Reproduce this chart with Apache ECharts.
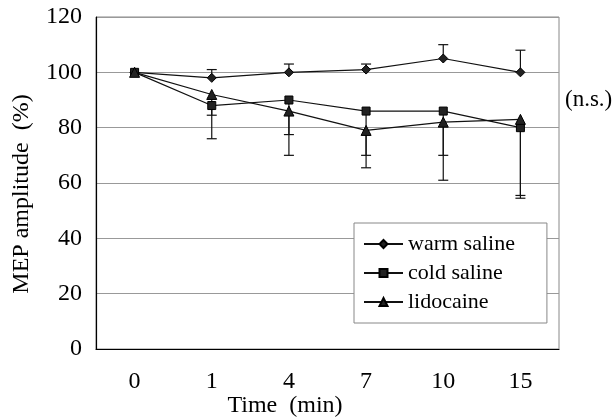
<!DOCTYPE html>
<html>
<head>
<meta charset="utf-8">
<script src="https://cdn.jsdelivr.net/npm/echarts@6/dist/echarts.min.js"></script>
<style>
  html, body { margin: 0; padding: 0; background: #fff; }
  #chart { width: 612px; height: 420px; }
</style>
</head>
<body>
<div id="chart"></div>
<script>
  // values
  var times = ['0', '1', '4', '7', '10', '15'];
  var warm = [100, 98, 100, 101, 105, 100];
  var warmUpper = [null, 101, 103, 103, 110, 108];
  var cold = [100, 88, 90, 86, 86, 80];
  var coldLower = [null, 76, 77.5, 70, 70, 55.5];
  var lido = [100, 92, 86, 79, 82, 83];
  var lidoLower = [null, 84.5, 70, 65.5, 61, 54.5];

  var serif = "'Liberation Serif', 'Times New Roman', serif";
  var chart = echarts.init(document.getElementById('chart'));

  // error bar from mean to bound with a cap
  function errBar(means, bounds) {
    return {
      type: 'custom',
      silent: true,
      z: 1,
      data: means.map(function (m, i) { return [i, m, bounds[i]]; }),
      renderItem: function (params, api) {
        var b = api.value(2);
        if (b === null || b === undefined || isNaN(b)) return null;
        var p0 = api.coord([api.value(0), api.value(1)]);
        var p1 = api.coord([api.value(0), b]);
        var s = { stroke: '#111', lineWidth: 1.2 };
        return {
          type: 'group',
          children: [
            { type: 'line', shape: { x1: p0[0], y1: p0[1], x2: p1[0], y2: p1[1] }, style: s },
            { type: 'line', shape: { x1: p1[0] - 5, y1: p1[1], x2: p1[0] + 5, y2: p1[1] }, style: s }
          ]
        };
      }
    };
  }

  function lineSeries(name, data, symbol, size) {
    return {
      name: name,
      type: 'line',
      data: data,
      symbol: symbol,
      symbolSize: size,
      z: 3,
      lineStyle: { color: '#111', width: 1.2 },
      itemStyle: { color: '#222', borderColor: '#000', borderWidth: 1 }
    };
  }

  chart.setOption({
    animation: false,
    grid: { left: 96, right: 53, top: 17, bottom: 71, show: true, borderColor: '#888', borderWidth: 1 },
    legend: {
      data: ['warm saline', 'cold saline', 'lidocaine'],
      orient: 'vertical',
      left: 354,
      top: 223,
      padding: [10, 32, 10, 9],
      itemWidth: 39,
      itemHeight: 10,
      itemGap: 7,
      itemStyle: { color: '#222' },
      backgroundColor: '#fff',
      borderColor: '#888',
      borderWidth: 1,
      textStyle: { fontFamily: serif, fontSize: 22, color: '#000' }
    },
    xAxis: {
      type: 'category',
      data: times,
      boundaryGap: true,
      axisLine: { lineStyle: { color: '#000', width: 1.2 } },
      axisTick: { inside: true, length: 5, lineStyle: { color: '#555' } },
      axisLabel: { fontFamily: serif, fontSize: 24, color: '#000', margin: 21 }
    },
    yAxis: {
      type: 'value',
      min: 0,
      max: 120,
      interval: 20,
      axisLine: { show: true, lineStyle: { color: '#000', width: 1.2 } },
      axisTick: { show: false },
      splitLine: { lineStyle: { color: '#999', width: 1 } },
      axisLabel: { fontFamily: serif, fontSize: 24, color: '#000', margin: 14 }
    },
    graphic: [
      { type: 'text', x: 22, y: 194, rotation: Math.PI / 2,
        style: { text: 'MEP amplitude  (%)', font: '24px ' + serif, fill: '#000', align: 'center', verticalAlign: 'middle' } },
      { type: 'text', x: 285, y: 406,
        style: { text: 'Time  (min)', font: '24px ' + serif, fill: '#000', align: 'center', verticalAlign: 'middle' } },
      { type: 'text', x: 565, y: 100,
        style: { text: '(n.s.)', font: '23px ' + serif, fill: '#000', align: 'left', verticalAlign: 'middle' } }
    ],
    series: [
      errBar(warm, warmUpper),
      errBar(cold, coldLower),
      errBar(lido, lidoLower),
      lineSeries('warm saline', warm, 'diamond', 9),
      lineSeries('cold saline', cold, 'rect', 8),
      lineSeries('lidocaine', lido, 'triangle', 10)
    ]
  });
</script>
</body>
</html>
